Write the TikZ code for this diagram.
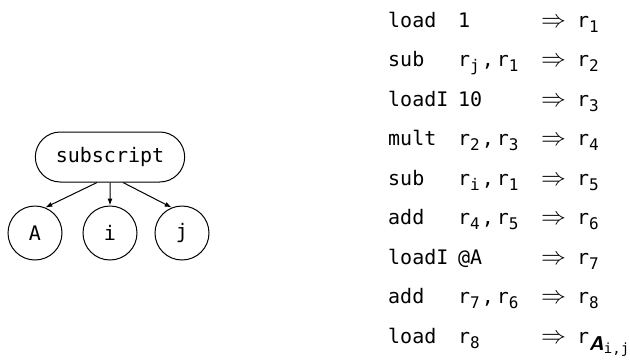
\documentclass[tikz,border=0pt]{standalone}
\usepackage{fontspec}
\setmonofont{DejaVu Sans Mono}
\usepackage{tikz}
\usetikzlibrary{positioning,shapes.misc,arrows.meta}
\newcommand{\reg}[1]{r\raisebox{-5pt}{\fontsize{16}{18}\selectfont #1}}
\newcommand{\regs}[2]{\reg{#1}\hspace{2pt},\hspace{3pt}\reg{#2}}
\newcommand{\regA}{r\raisebox{-7pt}{\normalfont\sffamily\bfseries\itshape A}\raisebox{-10pt}{\fontsize{14}{16}\selectfont i,j}}

\begin{document}
\begin{tikzpicture}[
  x=1pt, y=1pt,
  font=\fontsize{20}{24}\selectfont\ttfamily,
  opnode/.style={rounded rectangle, draw, line width=1pt, minimum width=156pt, minimum height=50pt},
  leaf/.style={circle, draw, line width=1pt, minimum size=54pt, inner sep=0pt},
  edge/.style={-{Latex[length=7pt,width=5pt]}, line width=1pt},
  instr/.style={anchor=base west, inner sep=0pt},
]
\useasboundingbox (0,0) rectangle (630,-360);

% tree
\node[opnode] (sub) at (110,-157) {subscript};
\node[leaf] (A) at (35,-233) {A};
\node[leaf] (i) at (110,-233) {i};
\node[leaf] (j) at (182,-233) {j};

\draw[edge] (sub.243) -- (A.68);
\draw[edge] (sub) -- (i);
\draw[edge] (sub.297) -- (j.112);

% code
\foreach \op/\arg/\dst [count=\k] in {
    load/1/\reg{1},
    sub/\regs{j}{1}/\reg{2},
    loadI/10/\reg{3},
    mult/\regs{2}{3}/\reg{4},
    sub/\regs{i}{1}/\reg{5},
    add/\regs{4}{5}/\reg{6},
    loadI/@A/\reg{7},
    add/\regs{7}{6}/\reg{8},
    load/\reg{8}/\regA} {
  \node[instr] (op\k) at (388,{-27-39.5*(\k-1)}) {\op};
  \node[instr] (arg\k) at (458,{-27-39.5*(\k-1)}) {\arg};
  \node[instr] (to\k) at (541,{-27-39.5*(\k-1)}) {\fontsize{23}{24}\selectfont$\Rightarrow$};
  \node[instr] (dst\k) at (577,{-27-39.5*(\k-1)}) {\dst};
}
\end{tikzpicture}
\end{document}
